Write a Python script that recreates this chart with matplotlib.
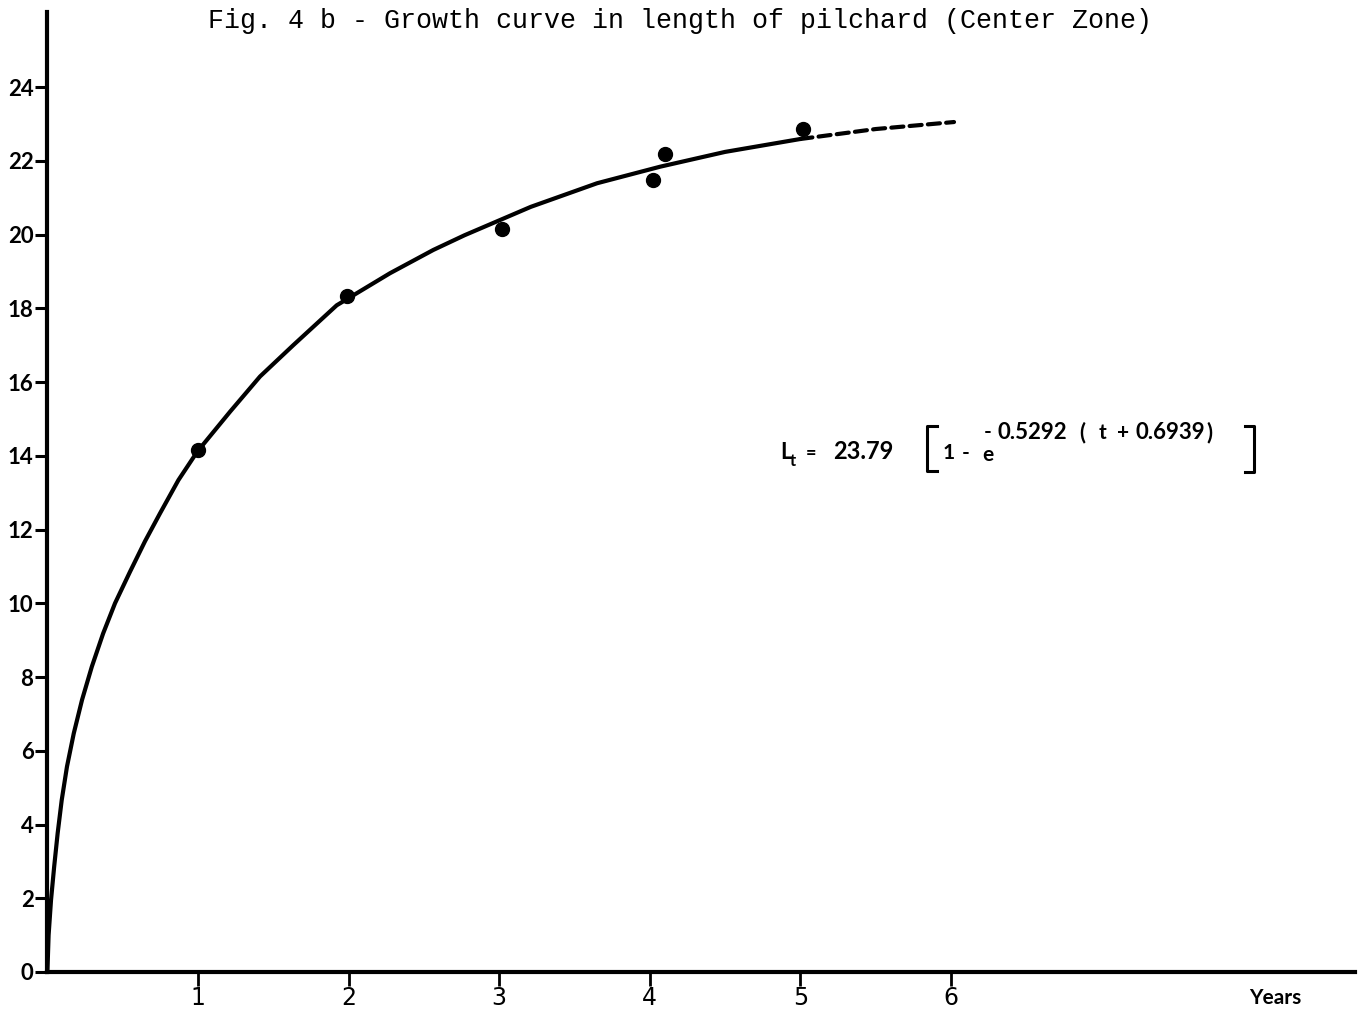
import matplotlib
matplotlib.use("Agg")
import matplotlib.pyplot as plt
from matplotlib.lines import Line2D

# Observed mean lengths (cm) by age
obs_age = [1.0, 1.99, 3.02, 4.02, 4.10, 5.02]
obs_len = [14.15, 18.33, 20.14, 21.48, 22.18, 22.87]

# Growth curve as drawn (solid part)
curve_age = [0, 0.008, 0.024, 0.045, 0.068, 0.095, 0.13, 0.175, 0.23, 0.295,
             0.37, 0.449, 0.548, 0.648, 0.748, 0.87, 0.995, 1.214, 1.412, 1.633,
             1.921, 2.275, 2.562, 2.77, 3.21, 3.65, 4.07, 4.5, 5.0]
curve_len = [0, 1.0, 1.95, 2.86, 3.76, 4.66, 5.57, 6.47, 7.38, 8.28,
             9.18, 10.0, 10.85, 11.68, 12.44, 13.34, 14.11, 15.2, 16.15, 17.0,
             18.08, 18.95, 19.58, 19.98, 20.75, 21.39, 21.84, 22.24, 22.59]

# Extrapolated part (dashed)
ext_age = [5.0, 5.5, 6.02]
ext_len = [22.59, 22.86, 23.05]

y_ticks = list(range(0, 25, 2))
x_ticks = [1, 2, 3, 4, 5, 6]

W, H = 1365, 1014


def px(x, y):
    """pixel position (from top-left) -> figure fraction"""
    return x / W, 1 - y / H


fig = plt.figure(figsize=(W / 100, H / 100), dpi=100)
fig.patch.set_facecolor("white")

x_unit = 150.6
y_unit = 36.875
x0, y0 = 47.4, 972
ax = fig.add_axes([x0 / W, 1 - y0 / H, (1355 - x0) / W, (y0 - 12) / H])
ax.set_xlim(0, (1355 - x0) / x_unit)
ax.set_ylim(0, (y0 - 12) / y_unit)

for s in ["top", "right"]:
    ax.spines[s].set_visible(False)
for s in ["left", "bottom"]:
    ax.spines[s].set_linewidth(3)
    ax.spines[s].set_color("black")

ax.plot(curve_age, curve_len, color="black", lw=3, solid_capstyle="round",
        solid_joinstyle="round", clip_on=False, zorder=3)
ax.plot(ext_age, ext_len, color="black", lw=3, dashes=(2.9, 1.5),
        dash_capstyle="round", zorder=3)
ax.plot(obs_age, obs_len, "o", color="black", markersize=10, zorder=4)

ax.set_yticks(y_ticks)
ax.set_yticklabels([str(v) for v in y_ticks], fontfamily="Lato",
                   fontweight="bold", fontsize=16)
ax.tick_params(axis="y", direction="out", length=9, width=2.2, pad=1)

ax.set_xticks(x_ticks)
ax.set_xticklabels([str(v) for v in x_ticks],
                   fontfamily=["Liberation Sans Narrow", "DejaVu Sans"],
                   fontsize=17)
ax.tick_params(axis="x", direction="out", length=10, width=2, pad=0)

fig.text(*px(1275, 998), "Years", ha="center", va="center",
         fontfamily="Lato", fontweight="bold", fontsize=15)

fig.text(*px(680, 21), "Fig. 4 b - Growth curve in length of pilchard (Center Zone)",
         ha="center", va="center", fontfamily="Liberation Mono", fontsize=19.2)

# equation pieces: (text, x, baseline y, size)
eq_font = dict(fontfamily="Lato", fontweight="bold", color="black")
pieces = [
    ("L", 780, 459, 16),
    ("t", 790, 466, 12),
    ("=", 806, 459, 13),
    ("23.79", 833, 459, 17),
    ("1", 943, 459, 15),
    ("-", 962, 459, 15),
    ("e", 982, 461, 15),
    ("-", 984, 438, 15),
    ("0.5292", 998, 439, 16),
    ("(", 1079, 439, 16),
    ("t", 1099, 439, 15),
    ("+", 1117, 439, 15),
    ("0.6939", 1135, 439, 16),
    (")", 1206, 439, 16),
]
for txt, x, y, size in pieces:
    fig.text(*px(x, y), txt, ha="left", va="baseline", fontsize=size, **eq_font)

# square brackets around the bracketed term
for xs, ys in [([937, 927, 927, 937], [426, 426, 471, 471]),
               ([1245, 1254, 1254, 1245], [426, 426, 472, 472])]:
    pts = [px(a, b) for a, b in zip(xs, ys)]
    fig.add_artist(Line2D([p[0] for p in pts], [p[1] for p in pts],
                          color="black", lw=2.2, transform=fig.transFigure))

fig.savefig("out.png", dpi=100, facecolor="white")
